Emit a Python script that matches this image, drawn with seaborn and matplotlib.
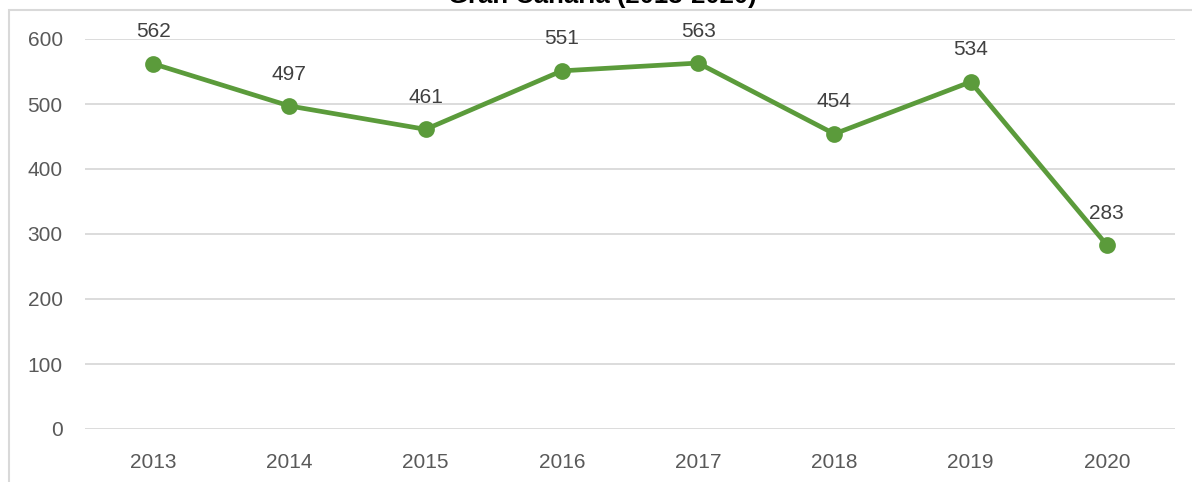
import matplotlib
matplotlib.use("Agg")
import matplotlib.pyplot as plt
import seaborn as sns
import pandas as pd
from matplotlib.patches import Rectangle

years = ["2013", "2014", "2015", "2016", "2017", "2018", "2019", "2020"]
values = [562, 497, 461, 551, 563, 454, 534, 283]
title = "Gran Canaria (2013-2020)"

df = pd.DataFrame({"year": years, "value": values})

sns.set_style("white")
plt.rcParams["font.family"] = ["Liberation Sans", "DejaVu Sans"]

green = "#5B9B3B"
grey_txt = "#595959"

fig = plt.figure(figsize=(11.92, 4.82), dpi=100)
ax = fig.add_axes([85 / 1192, 1 - 429 / 482, 1090 / 1192, 390 / 482])

sns.pointplot(data=df, x="year", y="value", color=green, markers="o",
              markersize=9.5, linewidth=3.4, ax=ax)

ax.set_xlim(-0.5, 7.5)
ax.set_ylim(0, 600)
ax.set_yticks(range(0, 601, 100))
ax.grid(axis="y", color="#D9D9D9", linewidth=1.3)
ax.set_axisbelow(True)
for s in ax.spines.values():
    s.set_visible(False)
ax.tick_params(axis="both", length=0, labelsize=15, labelcolor=grey_txt)
ax.tick_params(axis="y", pad=16)
ax.tick_params(axis="x", pad=17)
ax.set_xlabel("")
ax.set_ylabel("")

for i, v in enumerate(values):
    ax.annotate(str(v), (i, v), xytext=(0, 23), textcoords="offset points",
                ha="center", va="center", fontsize=15, color="#404040",
                annotation_clip=False)

# outer chart frame (partly cropped)
fig.patches.append(Rectangle((9 / 1192, -0.1), 1.2, 1.1 - 10 / 482,
                             transform=fig.transFigure, fill=False,
                             edgecolor="#D9D9D9", linewidth=1.5))
fig.text(0.505, 1 - 8.5 / 482, title, ha="center", va="bottom",
         fontsize=18.5, fontweight="bold", color="black")

fig.savefig("out.png", dpi=100)
